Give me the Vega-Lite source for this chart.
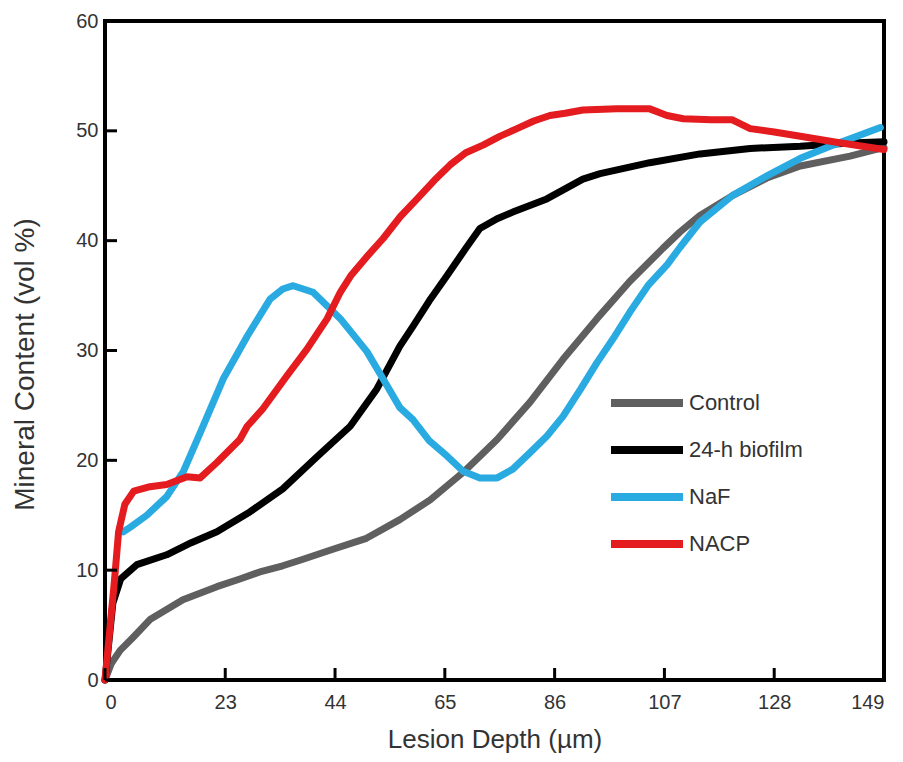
{
  "$schema": "https://vega.github.io/schema/vega-lite/v6.json",
  "autosize": {"type": "none"},
  "width": 779,
  "height": 659,
  "padding": {"left": 105, "top": 21, "right": 19, "bottom": 82},
  "background": "white",
  "config": {
    "view": {"stroke": "black", "strokeWidth": 4},
    "font": "Liberation Sans",
    "axis": {
      "grid": false,
      "domain": false,
      "ticks": false,
      "labelFont": "Liberation Sans",
      "labelFontSize": 20,
      "labelColor": "#333333",
      "titleFont": "Liberation Sans",
      "titleFontWeight": "normal",
      "titleColor": "#333333"
    },
    "legend": {
      "labelFont": "Liberation Sans",
      "labelFontSize": 22,
      "labelColor": "#333333"
    }
  },
  "datasets": {
    "xticks": [
      {"depth": 0}, {"depth": 23}, {"depth": 44}, {"depth": 65},
      {"depth": 86}, {"depth": 107}, {"depth": 128}, {"depth": 149}
    ],
    "yticks": [
      {"mineral": 0}, {"mineral": 10}, {"mineral": 20}, {"mineral": 30},
      {"mineral": 40}, {"mineral": 50}, {"mineral": 60}
    ],
    "curves": [
      {"series": "Control", "depth": 0, "mineral": 0},
      {"series": "Control", "depth": 1.2, "mineral": 1.5},
      {"series": "Control", "depth": 2.9, "mineral": 2.7},
      {"series": "Control", "depth": 5.4, "mineral": 3.9},
      {"series": "Control", "depth": 8.6, "mineral": 5.5},
      {"series": "Control", "depth": 14.9, "mineral": 7.3},
      {"series": "Control", "depth": 21.4, "mineral": 8.5},
      {"series": "Control", "depth": 25.8, "mineral": 9.2},
      {"series": "Control", "depth": 30, "mineral": 9.9},
      {"series": "Control", "depth": 34, "mineral": 10.4},
      {"series": "Control", "depth": 37.3, "mineral": 10.9},
      {"series": "Control", "depth": 43.6, "mineral": 11.9},
      {"series": "Control", "depth": 50, "mineral": 12.9},
      {"series": "Control", "depth": 56.4, "mineral": 14.6},
      {"series": "Control", "depth": 62.2, "mineral": 16.4},
      {"series": "Control", "depth": 68.5, "mineral": 18.9},
      {"series": "Control", "depth": 75, "mineral": 21.9},
      {"series": "Control", "depth": 81.3, "mineral": 25.3},
      {"series": "Control", "depth": 87.6, "mineral": 29.2},
      {"series": "Control", "depth": 94.1, "mineral": 32.9},
      {"series": "Control", "depth": 100.4, "mineral": 36.3},
      {"series": "Control", "depth": 106.7, "mineral": 39.3},
      {"series": "Control", "depth": 110, "mineral": 40.8},
      {"series": "Control", "depth": 113.8, "mineral": 42.3},
      {"series": "Control", "depth": 120, "mineral": 44.1},
      {"series": "Control", "depth": 126.6, "mineral": 45.7},
      {"series": "Control", "depth": 133, "mineral": 46.8},
      {"series": "Control", "depth": 142.5, "mineral": 47.7},
      {"series": "Control", "depth": 149, "mineral": 48.5},

      {"series": "24-h biofilm", "depth": 0, "mineral": 0},
      {"series": "24-h biofilm", "depth": 1.5, "mineral": 7},
      {"series": "24-h biofilm", "depth": 3, "mineral": 9.2},
      {"series": "24-h biofilm", "depth": 6.1, "mineral": 10.5},
      {"series": "24-h biofilm", "depth": 11.8, "mineral": 11.4},
      {"series": "24-h biofilm", "depth": 16.5, "mineral": 12.5},
      {"series": "24-h biofilm", "depth": 21.4, "mineral": 13.5},
      {"series": "24-h biofilm", "depth": 27.7, "mineral": 15.3},
      {"series": "24-h biofilm", "depth": 34, "mineral": 17.4},
      {"series": "24-h biofilm", "depth": 40.5, "mineral": 20.3},
      {"series": "24-h biofilm", "depth": 46.9, "mineral": 23.1},
      {"series": "24-h biofilm", "depth": 52, "mineral": 26.5},
      {"series": "24-h biofilm", "depth": 56.4, "mineral": 30.4},
      {"series": "24-h biofilm", "depth": 58.9, "mineral": 32.2},
      {"series": "24-h biofilm", "depth": 62, "mineral": 34.5},
      {"series": "24-h biofilm", "depth": 65.4, "mineral": 36.8},
      {"series": "24-h biofilm", "depth": 69, "mineral": 39.3},
      {"series": "24-h biofilm", "depth": 71.7, "mineral": 41.1},
      {"series": "24-h biofilm", "depth": 75, "mineral": 42},
      {"series": "24-h biofilm", "depth": 78, "mineral": 42.6},
      {"series": "24-h biofilm", "depth": 84.5, "mineral": 43.8},
      {"series": "24-h biofilm", "depth": 91.4, "mineral": 45.6},
      {"series": "24-h biofilm", "depth": 94.7, "mineral": 46.1},
      {"series": "24-h biofilm", "depth": 104.2, "mineral": 47.1},
      {"series": "24-h biofilm", "depth": 113.8, "mineral": 47.9},
      {"series": "24-h biofilm", "depth": 123.4, "mineral": 48.4},
      {"series": "24-h biofilm", "depth": 133, "mineral": 48.6},
      {"series": "24-h biofilm", "depth": 142.5, "mineral": 48.9},
      {"series": "24-h biofilm", "depth": 149, "mineral": 49},

      {"series": "NaF", "depth": 3.5, "mineral": 13.5},
      {"series": "NaF", "depth": 4.8, "mineral": 13.9},
      {"series": "NaF", "depth": 8, "mineral": 15},
      {"series": "NaF", "depth": 11.8, "mineral": 16.7},
      {"series": "NaF", "depth": 15, "mineral": 19},
      {"series": "NaF", "depth": 18.2, "mineral": 22.5},
      {"series": "NaF", "depth": 22.6, "mineral": 27.4},
      {"series": "NaF", "depth": 27.2, "mineral": 31.3},
      {"series": "NaF", "depth": 31.6, "mineral": 34.7},
      {"series": "NaF", "depth": 34, "mineral": 35.6},
      {"series": "NaF", "depth": 36, "mineral": 35.9},
      {"series": "NaF", "depth": 39.8, "mineral": 35.3},
      {"series": "NaF", "depth": 45, "mineral": 32.9},
      {"series": "NaF", "depth": 50.1, "mineral": 29.9},
      {"series": "NaF", "depth": 53.2, "mineral": 27.4},
      {"series": "NaF", "depth": 56.4, "mineral": 24.8},
      {"series": "NaF", "depth": 58.9, "mineral": 23.7},
      {"series": "NaF", "depth": 62, "mineral": 21.8},
      {"series": "NaF", "depth": 65.4, "mineral": 20.4},
      {"series": "NaF", "depth": 68.5, "mineral": 19},
      {"series": "NaF", "depth": 71.7, "mineral": 18.4},
      {"series": "NaF", "depth": 75, "mineral": 18.4},
      {"series": "NaF", "depth": 78, "mineral": 19.2},
      {"series": "NaF", "depth": 81.3, "mineral": 20.7},
      {"series": "NaF", "depth": 84.5, "mineral": 22.2},
      {"series": "NaF", "depth": 87.6, "mineral": 24},
      {"series": "NaF", "depth": 91, "mineral": 26.5},
      {"series": "NaF", "depth": 94.1, "mineral": 28.9},
      {"series": "NaF", "depth": 97.5, "mineral": 31.3},
      {"series": "NaF", "depth": 100.4, "mineral": 33.5},
      {"series": "NaF", "depth": 104, "mineral": 36},
      {"series": "NaF", "depth": 107.5, "mineral": 37.8},
      {"series": "NaF", "depth": 110, "mineral": 39.4},
      {"series": "NaF", "depth": 113.8, "mineral": 41.7},
      {"series": "NaF", "depth": 120, "mineral": 44.1},
      {"series": "NaF", "depth": 126.6, "mineral": 45.9},
      {"series": "NaF", "depth": 133, "mineral": 47.5},
      {"series": "NaF", "depth": 139.3, "mineral": 48.7},
      {"series": "NaF", "depth": 148.3, "mineral": 50.3},

      {"series": "NACP", "depth": 0, "mineral": 0},
      {"series": "NACP", "depth": 1.8, "mineral": 9},
      {"series": "NACP", "depth": 2.6, "mineral": 13.5},
      {"series": "NACP", "depth": 3.8, "mineral": 16},
      {"series": "NACP", "depth": 5.5, "mineral": 17.2},
      {"series": "NACP", "depth": 8.6, "mineral": 17.6},
      {"series": "NACP", "depth": 11.8, "mineral": 17.8},
      {"series": "NACP", "depth": 15.7, "mineral": 18.5},
      {"series": "NACP", "depth": 18.2, "mineral": 18.4},
      {"series": "NACP", "depth": 21.4, "mineral": 19.8},
      {"series": "NACP", "depth": 25.8, "mineral": 21.9},
      {"series": "NACP", "depth": 27.2, "mineral": 23.1},
      {"series": "NACP", "depth": 30.2, "mineral": 24.7},
      {"series": "NACP", "depth": 34.8, "mineral": 27.7},
      {"series": "NACP", "depth": 38.6, "mineral": 30.1},
      {"series": "NACP", "depth": 42.5, "mineral": 32.9},
      {"series": "NACP", "depth": 45, "mineral": 35.3},
      {"series": "NACP", "depth": 47, "mineral": 36.8},
      {"series": "NACP", "depth": 50, "mineral": 38.5},
      {"series": "NACP", "depth": 53.2, "mineral": 40.2},
      {"series": "NACP", "depth": 56.5, "mineral": 42.2},
      {"series": "NACP", "depth": 59.7, "mineral": 43.8},
      {"series": "NACP", "depth": 63, "mineral": 45.5},
      {"series": "NACP", "depth": 66, "mineral": 46.9},
      {"series": "NACP", "depth": 69, "mineral": 48},
      {"series": "NACP", "depth": 72.3, "mineral": 48.7},
      {"series": "NACP", "depth": 75.5, "mineral": 49.5},
      {"series": "NACP", "depth": 78.8, "mineral": 50.2},
      {"series": "NACP", "depth": 82, "mineral": 50.9},
      {"series": "NACP", "depth": 85.1, "mineral": 51.4},
      {"series": "NACP", "depth": 88, "mineral": 51.6},
      {"series": "NACP", "depth": 91.4, "mineral": 51.9},
      {"series": "NACP", "depth": 97.9, "mineral": 52},
      {"series": "NACP", "depth": 104.2, "mineral": 52},
      {"series": "NACP", "depth": 107.5, "mineral": 51.4},
      {"series": "NACP", "depth": 110.6, "mineral": 51.1},
      {"series": "NACP", "depth": 116, "mineral": 51},
      {"series": "NACP", "depth": 120, "mineral": 51},
      {"series": "NACP", "depth": 123.4, "mineral": 50.2},
      {"series": "NACP", "depth": 128, "mineral": 49.9},
      {"series": "NACP", "depth": 133, "mineral": 49.5},
      {"series": "NACP", "depth": 139.3, "mineral": 49},
      {"series": "NACP", "depth": 149, "mineral": 48.3}
    ]
  },
  "layer": [
    {
      "data": {"name": "curves"},
      "transform": [{"filter": "datum.series === 'Control' || datum.series === '24-h biofilm'"}],
      "mark": {"type": "line", "strokeWidth": 7, "strokeCap": "round", "strokeJoin": "round"},
      "encoding": {
        "x": {
          "field": "depth",
          "type": "quantitative",
          "scale": {"domain": [0, 149], "nice": false, "zero": false},
          "axis": {
            "orient": "bottom",
            "values": [0, 23, 44, 65, 86, 107, 128, 149],
            "title": "Lesion Depth (µm)",
            "titleFontSize": 26,
            "labelPadding": 12,
            "titlePadding": 14
          }
        },
        "y": {
          "field": "mineral",
          "type": "quantitative",
          "scale": {"domain": [0, 60], "nice": false},
          "axis": {
            "orient": "left",
            "values": [0, 10, 20, 30, 40, 50, 60],
            "title": "Mineral Content (vol %)",
            "titleFontSize": 28,
            "titleY": 343,
            "labelPadding": 7,
            "titlePadding": 36
          }
        },
        "color": {
          "field": "series",
          "type": "nominal",
          "sort": ["Control", "24-h biofilm", "NaF", "NACP"],
          "scale": {
            "domain": ["Control", "24-h biofilm", "NaF", "NACP"],
            "range": ["#5f5f5f", "#000000", "#29abe2", "#e41b1f"]
          },
          "legend": {
            "title": null,
            "orient": "none",
            "legendX": 526,
            "legendY": 366,
            "symbolType": "M-3,0L3,0",
            "symbolSize": 576,
            "symbolStrokeWidth": 8,
            "labelOffset": 26,
            "rowPadding": 15
          }
        }
      }
    },
    {
      "data": {"name": "curves"},
      "transform": [{"filter": "datum.series === 'NaF' || datum.series === 'NACP'"}],
      "mark": {"type": "line", "strokeWidth": 7, "strokeCap": "round", "strokeJoin": "round"},
      "encoding": {
        "x": {"field": "depth", "type": "quantitative"},
        "y": {"field": "mineral", "type": "quantitative"},
        "color": {"field": "series", "type": "nominal"}
      }
    },
    {
      "data": {"name": "xticks"},
      "mark": {"type": "tick", "orient": "vertical", "color": "black", "opacity": 1, "size": 12, "thickness": 3, "yOffset": -6},
      "encoding": {
        "x": {"field": "depth", "type": "quantitative"},
        "y": {"datum": 0, "type": "quantitative"}
      }
    },
    {
      "data": {"name": "yticks"},
      "mark": {"type": "tick", "orient": "horizontal", "color": "black", "opacity": 1, "size": 12, "thickness": 3, "xOffset": 6},
      "encoding": {
        "y": {"field": "mineral", "type": "quantitative"},
        "x": {"datum": 0, "type": "quantitative"}
      }
    }
  ]
}
